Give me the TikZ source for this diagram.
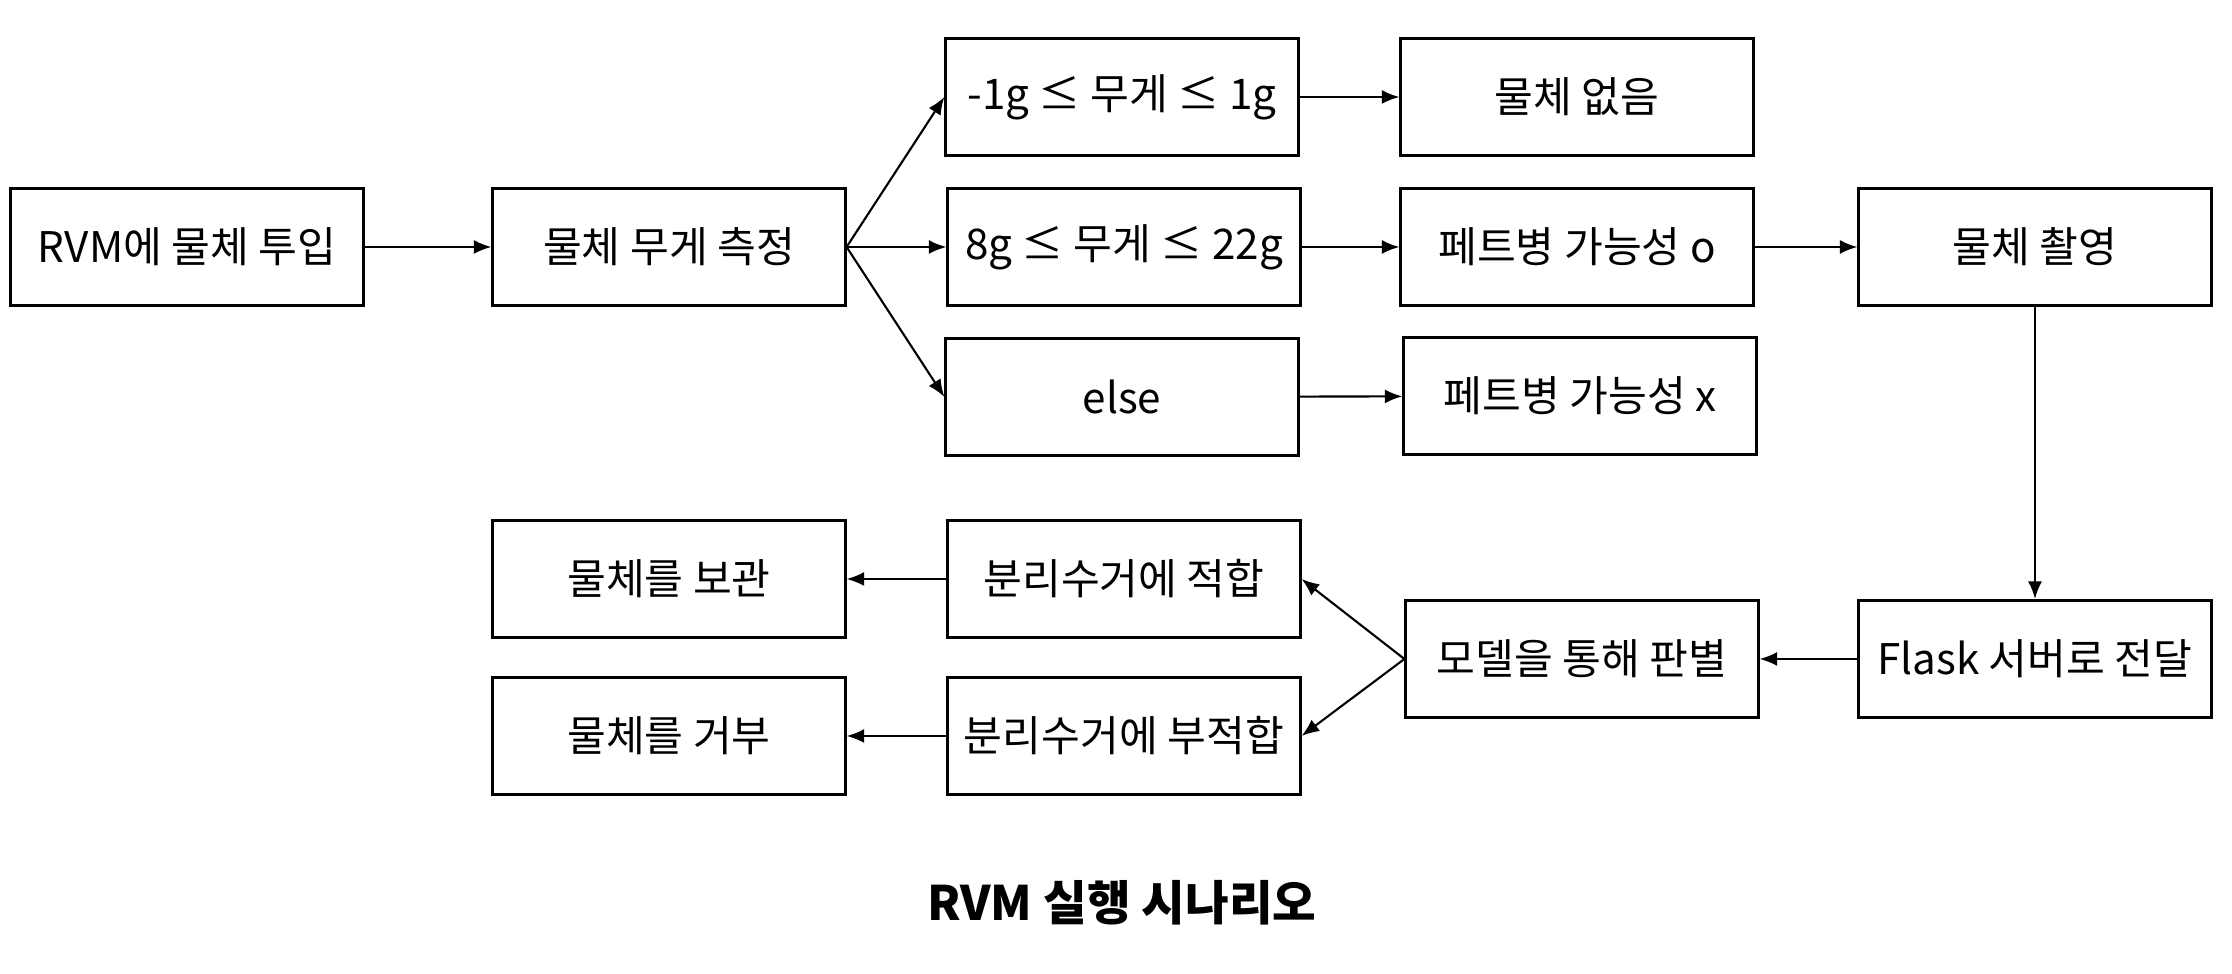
\documentclass[tikz,border=0pt]{standalone}
\usepackage{fontspec}
\setmainfont{Noto Sans CJK KR}
\usetikzlibrary{arrows.meta, positioning}

\begin{document}
\begin{tikzpicture}[x=0.01cm, y=-0.01cm,
    stepbox/.style={draw, line width=0.85pt, minimum width=3.52cm, minimum height=1.17cm,
                    inner sep=0pt, font=\fontsize{12}{14}\selectfont},
    flow/.style={-{Latex[length=5pt,width=4pt]}, line width=0.6pt}]
  \useasboundingbox (0,0) rectangle (2232,974);
  % top rows
  \node[stepbox] (insert) at (187,247) {RVM에 물체 투입};
  \node[stepbox] (weigh) at (669,247) {물체 무게 측정};
  \node[stepbox] (low) at (1122,97) {-1g ≤ 무게 ≤ 1g};
  \node[stepbox] (mid) at (1124,247) {8g ≤ 무게 ≤ 22g};
  \node[stepbox] (other) at (1122,397) {else};
  \node[stepbox] (empty) at (1577,97) {물체 없음};
  \node[stepbox] (peto) at (1577,247) {페트병 가능성 o};
  \node[stepbox] (petx) at (1580,396) {페트병 가능성 x};
  \node[stepbox] (shoot) at (2035,247) {물체 촬영};
  % bottom rows
  \node[stepbox] (flask) at (2035,659) {Flask 서버로 전달};
  \node[stepbox] (model) at (1582,659) {모델을 통해 판별};
  \node[stepbox] (fit) at (1124,579) {분리수거에 적합};
  \node[stepbox] (unfit) at (1124,736) {분리수거에 부적합};
  \node[stepbox] (keep) at (669,579) {물체를 보관};
  \node[stepbox] (reject) at (669,736) {물체를 거부};
  \node[font=\bfseries\fontsize{13.5}{16}\selectfont] (title) at (1122,903) {RVM 실행 시나리오};

  \draw[flow] (insert) -- (weigh);
  \draw[flow] (weigh.east) -- (low.west);
  \draw[flow] (weigh.east) -- (mid.west);
  \draw[flow] (weigh.east) -- (other.west);
  \draw[flow] (low) -- (empty);
  \draw[flow] (mid) -- (peto);
  \draw[flow] (other) -- (petx);
  \draw[flow] (peto) -- (shoot);
  \draw[flow] (shoot) -- (flask);
  \draw[flow] (flask) -- (model);
  \draw[flow] (model.west) -- (fit.east);
  \draw[flow] (model.west) -- (unfit.east);
  \draw[flow] (fit) -- (keep);
  \draw[flow] (unfit) -- (reject);
\end{tikzpicture}
\end{document}
